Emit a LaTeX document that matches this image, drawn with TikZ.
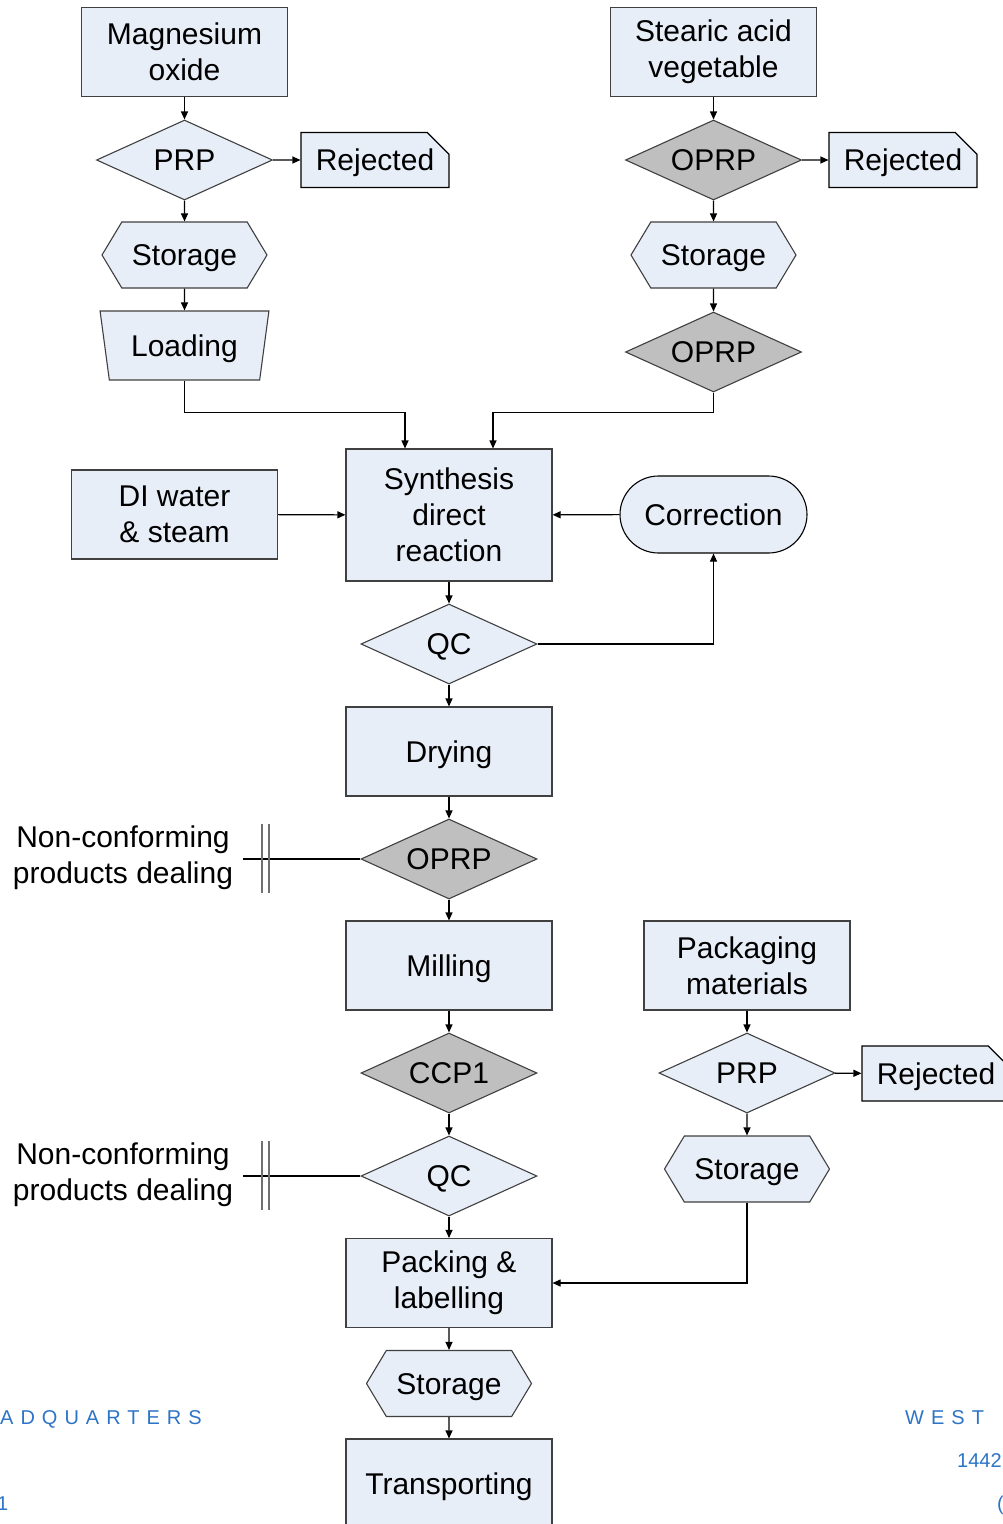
\documentclass[tikz,border=0pt]{standalone}
\usepackage{fontspec}
\setmainfont{Liberation Sans}
\newfontfamily\spacedfont[LetterSpace=35]{Liberation Sans}
\usetikzlibrary{shapes.geometric,shapes.misc,shapes.symbols,arrows.meta}
\definecolor{boxfill}{HTML}{E8EEF8}
\definecolor{oprpfill}{HTML}{BFBFBF}
\definecolor{edgegray}{HTML}{404040}
\definecolor{bargray}{HTML}{707070}
\definecolor{markblue}{HTML}{2E74C6}

\begin{document}
\begin{tikzpicture}[x=1pt,y=-1pt,
  every node/.style={font=\fontsize{30}{36}\selectfont, inner sep=0pt, align=center},
  single/.style={text height=21.5pt, text depth=0pt},
  stepbox/.style={draw=edgegray, fill=boxfill, line width=1.1pt, minimum width=206pt, minimum height=89pt},
  check/.style={single, draw=edgegray, fill=boxfill, line width=1.1pt, diamond, shape aspect=2.2, minimum width=176pt, minimum height=80pt},
  oprp/.style={check, fill=oprpfill},
  store/.style={single, draw=edgegray, fill=boxfill, line width=1.1pt, signal, signal to=west and east, signal pointer angle=118, minimum width=165pt, minimum height=66pt},
  loadbox/.style={single, draw=edgegray, fill=boxfill, line width=1.1pt, trapezium, trapezium left angle=73, trapezium right angle=73, shape border rotate=180, trapezium stretches=true, minimum width=169pt, minimum height=69pt},
  reject/.style={single, draw=black, fill=boxfill, line width=1.1pt, chamfered rectangle, chamfered rectangle corners=north east, chamfered rectangle xsep=11pt, chamfered rectangle ysep=11pt, minimum width=148pt, minimum height=55pt},
  fixbox/.style={single, draw=black, fill=boxfill, line width=1.1pt, rounded rectangle, minimum width=187pt, minimum height=77pt},
  wire/.style={draw=black, line width=1.1pt},
  arr/.style={wire, -{Triangle[length=8pt,width=7pt]}},
  bar/.style={draw=bargray, line width=1.6pt},
  stamp/.style={font=\spacedfont\fontsize{20}{24}\selectfont, text=markblue}]
\useasboundingbox (0,0) rectangle (1002,1524);

% magnesium oxide feed
\node[stepbox] (mgo) at (184.5,52) {Magnesium\\oxide};
\node[check] (prp1) at (184.5,160) {PRP};
\node[reject] (rej1) at (375,160) {Rejected};
\node[store] (sto1) at (184.5,255) {Storage};
\node[loadbox] (load) at (184.5,345.5) {Loading};

% stearic acid feed
\node[stepbox] (sta) at (713.5,52) {Stearic acid\\vegetable};
\node[oprp] (oprp1) at (713.5,160) {OPRP};
\node[reject] (rej2) at (903,160) {Rejected};
\node[store] (sto2) at (713.5,255) {Storage};
\node[oprp] (oprp2) at (713.5,352) {OPRP};

% main line
\node[stepbox, minimum height=132pt] (syn) at (449,515) {Synthesis\\direct\\reaction};
\node[stepbox] (diw) at (174.5,514.5) {DI water\\\& steam};
\node[fixbox] (corr) at (713.5,514.5) {Correction};
\node[check] (qc1) at (449,644) {QC};
\node[stepbox, single] (dry) at (449,751.5) {Drying};
\node[oprp] (oprp3) at (449,859) {OPRP};
\node[stepbox, single] (mill) at (449,965.5) {Milling};
\node[oprp] (ccp) at (449,1073) {CCP1};
\node[check] (qc2) at (449,1176) {QC};
\node[stepbox] (pack) at (449,1283) {Packing \&\\labelling};
\node[store] (sto4) at (449,1383.5) {Storage};
\node[stepbox, single] (trans) at (449,1483.5) {Transporting};

% packaging materials
\node[stepbox] (pkm) at (747,965.5) {Packaging\\materials};
\node[check] (prp2) at (747,1073) {PRP};
\node[reject] (rej3) at (936,1073.5) {Rejected};
\node[store] (sto3) at (747,1169) {Storage};

% non-conforming
\node (nc1) at (123,858) {Non-conforming\\products dealing};
\coordinate (nc1end) at (243,859);
\node (nc2) at (123,1175) {Non-conforming\\products dealing};
\coordinate (nc2end) at (243,1176);

\draw[arr] (mgo) -- (prp1);
\draw[arr] (prp1) -- (rej1);
\draw[arr] (prp1) -- (sto1);
\draw[arr] (sto1) -- (load);
\draw[arr] (sta) -- (oprp1);
\draw[arr] (oprp1) -- (rej2);
\draw[arr] (oprp1) -- (sto2);
\draw[arr] (sto2) -- (oprp2);
\draw[arr] (load.south) -- ++(0,32) -| ([xshift=-44pt]syn.north);
\draw[arr] (oprp2.south) -- ++(0,20) -| ([xshift=44pt]syn.north);
\draw[arr] (diw) -- (syn);
\draw[arr] (corr) -- (syn);
\draw[arr] (syn) -- (qc1);
\draw[arr] (qc1.east) -| (corr.south);
\draw[arr] (qc1) -- (dry);
\draw[arr] (dry) -- (oprp3);
\draw[arr] (oprp3) -- (mill);
\draw[arr] (mill) -- (ccp);
\draw[arr] (ccp) -- (qc2);
\draw[arr] (qc2) -- (pack);
\draw[arr] (pack) -- (sto4);
\draw[arr] (sto4) -- (trans);
\draw[arr] (pkm) -- (prp2);
\draw[arr] (prp2) -- (rej3);
\draw[arr] (prp2) -- (sto3);
\draw[arr] (sto3.south) |- (pack.east);
\draw[wire] (oprp3.west) -- (nc1end);
\draw[bar] (262,824) -- (262,893) (269,824) -- (269,893);
\draw[wire] (qc2.west) -- (nc2end);
\draw[bar] (262,1141) -- (262,1210) (269,1141) -- (269,1210);

% page marks
\node[stamp, anchor=base west] (hq) at (0,1424) {ADQUARTERS};
\node[stamp, anchor=base west] (west) at (905,1424) {WEST};
\node[stamp, anchor=base west, font=\fontsize{20}{24}\selectfont] (zip) at (957,1467) {1442};
\node[stamp, anchor=base west, font=\fontsize{20}{24}\selectfont] (one) at (-3,1510) {1};
\node[stamp, anchor=base west, font=\fontsize{20}{24}\selectfont] (par) at (997,1510) {(};
\end{tikzpicture}
\end{document}
